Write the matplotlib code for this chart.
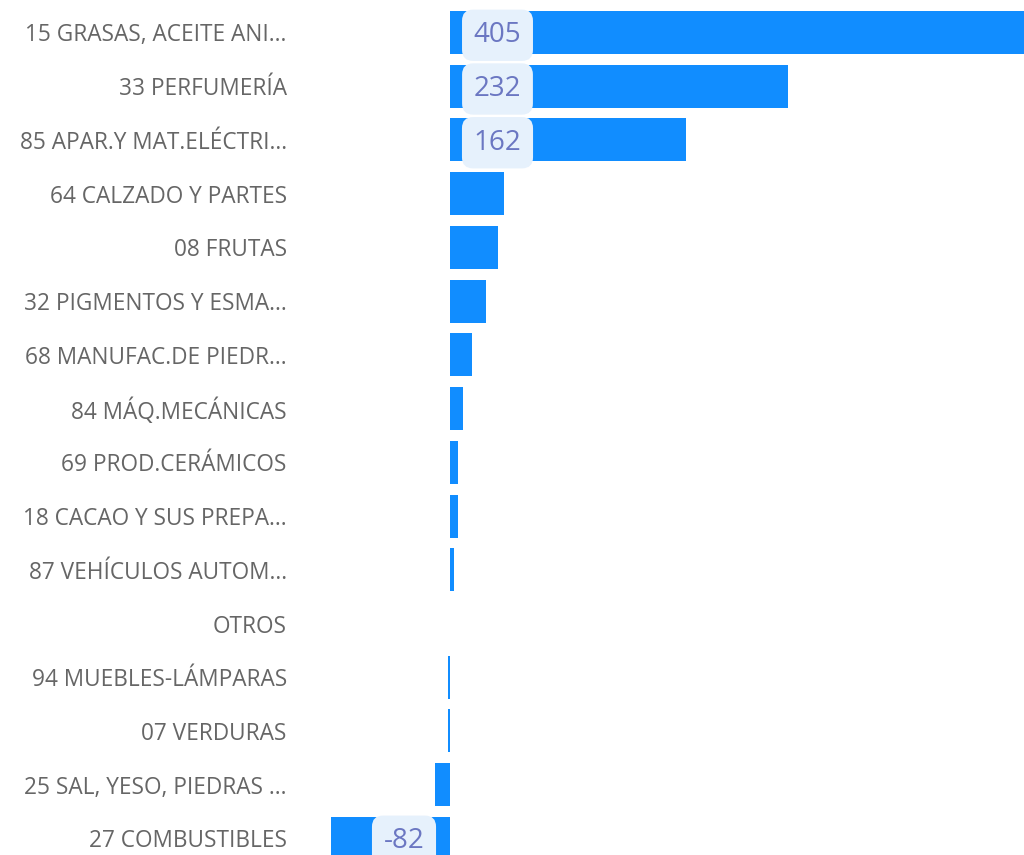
import matplotlib
matplotlib.use('Agg')
import matplotlib.pyplot as plt

plt.rcParams['font.family'] = ['Open Sans', 'DejaVu Sans']

categories = [
    '15 GRASAS, ACEITE ANI...',
    '33 PERFUMERÍA',
    '85 APAR.Y MAT.ELÉCTRI...',
    '64 CALZADO Y PARTES',
    '08 FRUTAS',
    '32 PIGMENTOS Y ESMA...',
    '68 MANUFAC.DE PIEDR...',
    '84 MÁQ.MECÁNICAS',
    '69 PROD.CERÁMICOS',
    '18 CACAO Y SUS PREPA...',
    '87 VEHÍCULOS AUTOM...',
    'OTROS',
    '94 MUEBLES-LÁMPARAS',
    '07 VERDURAS',
    '25 SAL, YESO, PIEDRAS ...',
    '27 COMBUSTIBLES',
]
values = [405, 232, 162, 37, 33, 25, 15, 9, 5.5, 5.5, 2.7, 0, -1.3, -1.3, -10.3, -82]
shown_labels = [405, 232, 162, -82]

W, H = 1024, 855
fig = plt.figure(figsize=(W / 100, H / 100), dpi=100)

# axes from x=300px to right edge; zero at 450px, 1.457 px per unit
ax_left = 300
scale = 1.457
zero_px = 450
ax = fig.add_axes([ax_left / W, 0, 1 - ax_left / W, 1])
ax.set_xlim((ax_left - zero_px) / scale, (W - zero_px) / scale)

pitch = 53.73
first_c = 32.5
ax.set_ylim((H - first_c) / pitch, -first_c / pitch)

ypos = list(range(len(categories)))
ax.barh(ypos, values, height=0.8, color='#118DFF')

ax.set_yticks(ypos)
ax.set_yticklabels(categories, fontsize=16.3, color='#666666')
ax.tick_params(axis='y', length=0, pad=9.5)
ax.set_xticks([])
for s in ax.spines.values():
    s.set_visible(False)

for y, v in zip(ypos, values):
    if v in shown_labels:
        off = 47.5 if v > 0 else -46
        ax.annotate(str(int(v)), xy=(0, y), xytext=(off * 0.72, -2),
                    textcoords='offset points', ha='center', va='center',
                    fontsize=20, color='#6B77C2',
                    bbox=dict(boxstyle='round,pad=0.42,rounding_size=0.4',
                              fc='#E6F1FC', ec='none'))

plt.savefig('out.png', dpi=100)
